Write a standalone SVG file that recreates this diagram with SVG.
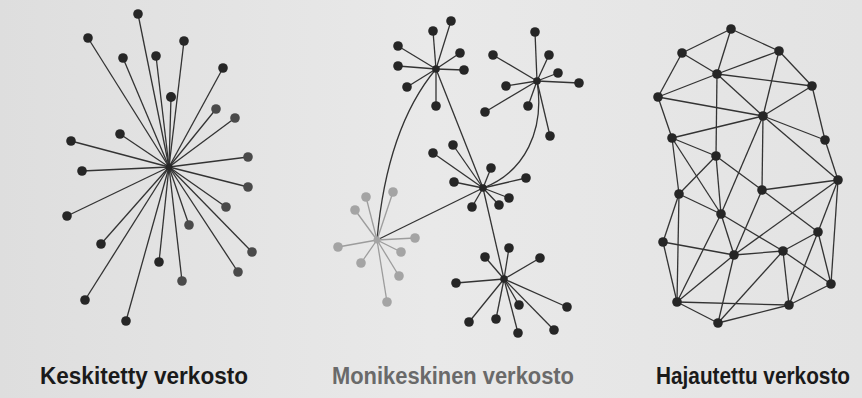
<svg xmlns="http://www.w3.org/2000/svg" width="862" height="398" viewBox="0 0 862 398">
<defs>
<linearGradient id="bg" x1="0" y1="0" x2="1" y2="0">
<stop offset="0" stop-color="#dedede"/>
<stop offset="0.5" stop-color="#e9e9e9"/>
<stop offset="1" stop-color="#e3e3e3"/>
</linearGradient>
<style>
.e{stroke:#333;stroke-width:1.3;fill:none}
.eg{stroke:#9c9c9c;stroke-width:1.3;fill:none}
.n{fill:#262626}
.nm{fill:#4a4a4a}
.ng{fill:#a4a4a4}
.lbl{font-family:"Liberation Sans",Arial,sans-serif;font-size:21px;font-weight:bold}
</style>
</defs>
<rect width="862" height="398" fill="url(#bg)"/>

<!-- Centralized network -->
<g id="central-edges" class="e">
<line x1="169" y1="167" x2="138" y2="14"/>
<line x1="169" y1="167" x2="88" y2="38"/>
<line x1="169" y1="167" x2="123" y2="58"/>
<line x1="169" y1="167" x2="156" y2="56"/>
<line x1="169" y1="167" x2="184" y2="41"/>
<line x1="169" y1="167" x2="223" y2="68"/>
<line x1="169" y1="167" x2="171" y2="97"/>
<line x1="169" y1="167" x2="216" y2="109"/>
<line x1="169" y1="167" x2="235" y2="118"/>
<line x1="169" y1="167" x2="120" y2="134"/>
<line x1="169" y1="167" x2="71" y2="141"/>
<line x1="169" y1="167" x2="82" y2="171"/>
<line x1="169" y1="167" x2="248" y2="157"/>
<line x1="169" y1="167" x2="248" y2="187"/>
<line x1="169" y1="167" x2="67" y2="216"/>
<line x1="169" y1="167" x2="226" y2="207"/>
<line x1="169" y1="167" x2="189" y2="225"/>
<line x1="169" y1="167" x2="101" y2="244"/>
<line x1="169" y1="167" x2="252" y2="252"/>
<line x1="169" y1="167" x2="159" y2="262"/>
<line x1="169" y1="167" x2="238" y2="272"/>
<line x1="169" y1="167" x2="182" y2="281"/>
<line x1="169" y1="167" x2="85" y2="300"/>
<line x1="169" y1="167" x2="126" y2="321"/>
</g>
<g id="central-hub"><circle class="n" cx="169" cy="167" r="3.5"/></g>
<g id="central-leaves">
<circle class="n" cx="138" cy="14" r="4.8"/>
<circle class="n" cx="88" cy="38" r="4.8"/>
<circle class="n" cx="123" cy="58" r="4.8"/>
<circle class="n" cx="156" cy="56" r="4.8"/>
<circle class="n" cx="184" cy="41" r="4.8"/>
<circle class="n" cx="223" cy="68" r="4.8"/>
<circle class="n" cx="171" cy="97" r="5"/>
<circle class="nm" cx="216" cy="109" r="4.8"/>
<circle class="nm" cx="235" cy="118" r="4.8"/>
<circle class="n" cx="120" cy="134" r="4.8"/>
<circle class="n" cx="71" cy="141" r="4.8"/>
<circle class="n" cx="82" cy="171" r="4.8"/>
<circle class="nm" cx="248" cy="157" r="4.8"/>
<circle class="nm" cx="248" cy="187" r="4.8"/>
<circle class="n" cx="67" cy="216" r="4.8"/>
<circle class="nm" cx="226" cy="207" r="4.8"/>
<circle class="nm" cx="189" cy="225" r="4.8"/>
<circle class="n" cx="101" cy="244" r="4.8"/>
<circle class="nm" cx="252" cy="252" r="4.8"/>
<circle class="n" cx="159" cy="262" r="4.8"/>
<circle class="nm" cx="238" cy="272" r="4.8"/>
<circle class="nm" cx="182" cy="281" r="4.8"/>
<circle class="n" cx="85" cy="300" r="4.8"/>
<circle class="n" cx="126" cy="321" r="4.8"/>
</g>

<!-- Multi-centered network -->
<g id="multi-edges">
<g class="e">
<path d="M436,69 C410,100 385,150 377,240"/>
<path d="M537,81 C545,130 525,172 483,188"/>
<line x1="436" y1="69" x2="483" y2="188"/>
<line x1="483" y1="188" x2="377" y2="240"/>
<line x1="483" y1="188" x2="504" y2="279"/>
<line x1="436" y1="69" x2="451" y2="21"/>
<line x1="436" y1="69" x2="433" y2="31"/>
<line x1="436" y1="69" x2="398" y2="46"/>
<line x1="436" y1="69" x2="460" y2="53"/>
<line x1="436" y1="69" x2="398" y2="66"/>
<line x1="436" y1="69" x2="464" y2="70"/>
<line x1="436" y1="69" x2="407" y2="87"/>
<line x1="436" y1="69" x2="436" y2="106"/>
<line x1="537" y1="81" x2="535" y2="32"/>
<line x1="537" y1="81" x2="493" y2="55"/>
<line x1="537" y1="81" x2="549" y2="55"/>
<line x1="537" y1="81" x2="558" y2="73"/>
<line x1="537" y1="81" x2="579" y2="83"/>
<line x1="537" y1="81" x2="506" y2="86"/>
<line x1="537" y1="81" x2="528" y2="106"/>
<line x1="537" y1="81" x2="485" y2="112"/>
<line x1="537" y1="81" x2="550" y2="136"/>
<line x1="483" y1="188" x2="433" y2="153"/>
<line x1="483" y1="188" x2="453" y2="145"/>
<line x1="483" y1="188" x2="491" y2="168"/>
<line x1="483" y1="188" x2="526" y2="178"/>
<line x1="483" y1="188" x2="454" y2="182"/>
<line x1="483" y1="188" x2="509" y2="198"/>
<line x1="483" y1="188" x2="499" y2="205"/>
<line x1="483" y1="188" x2="472" y2="207"/>
<line x1="504" y1="279" x2="509" y2="248"/>
<line x1="504" y1="279" x2="485" y2="257"/>
<line x1="504" y1="279" x2="540" y2="258"/>
<line x1="504" y1="279" x2="456" y2="283"/>
<line x1="504" y1="279" x2="567" y2="307"/>
<line x1="504" y1="279" x2="519" y2="305"/>
<line x1="504" y1="279" x2="496" y2="319"/>
<line x1="504" y1="279" x2="469" y2="322"/>
<line x1="504" y1="279" x2="518" y2="333"/>
<line x1="504" y1="279" x2="554" y2="330"/>
</g>
<g class="eg">
<line x1="377" y1="240" x2="366" y2="197"/>
<line x1="377" y1="240" x2="393" y2="192"/>
<line x1="377" y1="240" x2="355" y2="210"/>
<line x1="377" y1="240" x2="415" y2="238"/>
<line x1="377" y1="240" x2="338" y2="247"/>
<line x1="377" y1="240" x2="401" y2="252"/>
<line x1="377" y1="240" x2="361" y2="263"/>
<line x1="377" y1="240" x2="399" y2="276"/>
<line x1="377" y1="240" x2="387" y2="302"/>
</g>
</g>
<g id="hubA">
<circle class="n" cx="436" cy="69" r="3.8"/>
<circle class="n" cx="451" cy="21" r="4.8"/>
<circle class="n" cx="433" cy="31" r="4.8"/>
<circle class="n" cx="398" cy="46" r="4.8"/>
<circle class="n" cx="460" cy="53" r="4.8"/>
<circle class="n" cx="398" cy="66" r="4.8"/>
<circle class="n" cx="464" cy="70" r="4.8"/>
<circle class="n" cx="407" cy="87" r="4.8"/>
<circle class="n" cx="436" cy="106" r="4.8"/>
</g>
<g id="hubB">
<circle class="n" cx="537" cy="81" r="3.8"/>
<circle class="n" cx="535" cy="32" r="4.8"/>
<circle class="n" cx="493" cy="55" r="4.8"/>
<circle class="n" cx="549" cy="55" r="4.8"/>
<circle class="n" cx="558" cy="73" r="4.8"/>
<circle class="n" cx="579" cy="83" r="4.8"/>
<circle class="n" cx="506" cy="86" r="4.8"/>
<circle class="n" cx="528" cy="106" r="4.8"/>
<circle class="n" cx="485" cy="112" r="4.8"/>
<circle class="n" cx="550" cy="136" r="4.8"/>
</g>
<g id="hubC">
<circle class="n" cx="483" cy="188" r="3.8"/>
<circle class="n" cx="433" cy="153" r="4.8"/>
<circle class="n" cx="453" cy="145" r="4.8"/>
<circle class="n" cx="491" cy="168" r="4.8"/>
<circle class="n" cx="526" cy="178" r="4.8"/>
<circle class="n" cx="454" cy="182" r="4.8"/>
<circle class="n" cx="509" cy="198" r="4.8"/>
<circle class="n" cx="499" cy="205" r="4.8"/>
<circle class="n" cx="472" cy="207" r="4.8"/>
</g>
<g id="hubD">
<circle class="ng" cx="377" cy="240" r="3.5"/>
<circle class="ng" cx="366" cy="197" r="4.8"/>
<circle class="ng" cx="393" cy="192" r="4.8"/>
<circle class="ng" cx="355" cy="210" r="4.8"/>
<circle class="ng" cx="415" cy="238" r="4.8"/>
<circle class="ng" cx="338" cy="247" r="4.8"/>
<circle class="ng" cx="401" cy="252" r="4.8"/>
<circle class="ng" cx="361" cy="263" r="4.8"/>
<circle class="ng" cx="399" cy="276" r="4.8"/>
<circle class="ng" cx="387" cy="302" r="4.8"/>
</g>
<g id="hubE">
<circle class="n" cx="504" cy="279" r="3.8"/>
<circle class="n" cx="509" cy="248" r="4.8"/>
<circle class="n" cx="485" cy="257" r="4.8"/>
<circle class="n" cx="540" cy="258" r="4.8"/>
<circle class="n" cx="456" cy="283" r="4.8"/>
<circle class="n" cx="567" cy="307" r="4.8"/>
<circle class="n" cx="519" cy="305" r="4.8"/>
<circle class="n" cx="496" cy="319" r="4.8"/>
<circle class="n" cx="469" cy="322" r="4.8"/>
<circle class="n" cx="518" cy="333" r="4.8"/>
<circle class="n" cx="554" cy="330" r="4.8"/>
</g>

<!-- Distributed network -->
<g id="mesh-edges" class="e">
<line x1="731" y1="29" x2="682" y2="53"/>
<line x1="731" y1="29" x2="779" y2="51"/>
<line x1="731" y1="29" x2="717" y2="74"/>
<line x1="682" y1="53" x2="717" y2="74"/>
<line x1="682" y1="53" x2="658" y2="97"/>
<line x1="779" y1="51" x2="717" y2="74"/>
<line x1="779" y1="51" x2="812" y2="86"/>
<line x1="779" y1="51" x2="763" y2="116"/>
<line x1="717" y1="74" x2="812" y2="86"/>
<line x1="717" y1="74" x2="658" y2="97"/>
<line x1="717" y1="74" x2="763" y2="116"/>
<line x1="717" y1="74" x2="716" y2="156"/>
<line x1="812" y1="86" x2="763" y2="116"/>
<line x1="812" y1="86" x2="825" y2="140"/>
<line x1="658" y1="97" x2="763" y2="116"/>
<line x1="658" y1="97" x2="672" y2="138"/>
<line x1="763" y1="116" x2="672" y2="138"/>
<line x1="763" y1="116" x2="825" y2="140"/>
<line x1="763" y1="116" x2="838" y2="180"/>
<line x1="763" y1="116" x2="762" y2="190"/>
<line x1="763" y1="116" x2="721" y2="214"/>
<line x1="672" y1="138" x2="716" y2="156"/>
<line x1="672" y1="138" x2="679" y2="194"/>
<line x1="672" y1="138" x2="721" y2="214"/>
<line x1="825" y1="140" x2="838" y2="180"/>
<line x1="716" y1="156" x2="762" y2="190"/>
<line x1="716" y1="156" x2="679" y2="194"/>
<line x1="716" y1="156" x2="721" y2="214"/>
<line x1="838" y1="180" x2="762" y2="190"/>
<line x1="838" y1="180" x2="818" y2="232"/>
<line x1="838" y1="180" x2="734" y2="255"/>
<line x1="838" y1="180" x2="831" y2="284"/>
<line x1="762" y1="190" x2="818" y2="232"/>
<line x1="762" y1="190" x2="734" y2="255"/>
<line x1="679" y1="194" x2="721" y2="214"/>
<line x1="679" y1="194" x2="663" y2="242"/>
<line x1="679" y1="194" x2="677" y2="302"/>
<line x1="721" y1="214" x2="734" y2="255"/>
<line x1="721" y1="214" x2="783" y2="251"/>
<line x1="721" y1="214" x2="677" y2="302"/>
<line x1="818" y1="232" x2="783" y2="251"/>
<line x1="818" y1="232" x2="831" y2="284"/>
<line x1="818" y1="232" x2="789" y2="305"/>
<line x1="663" y1="242" x2="734" y2="255"/>
<line x1="663" y1="242" x2="677" y2="302"/>
<line x1="734" y1="255" x2="783" y2="251"/>
<line x1="734" y1="255" x2="677" y2="302"/>
<line x1="734" y1="255" x2="718" y2="323"/>
<line x1="783" y1="251" x2="831" y2="284"/>
<line x1="783" y1="251" x2="789" y2="305"/>
<line x1="783" y1="251" x2="718" y2="323"/>
<line x1="831" y1="284" x2="789" y2="305"/>
<line x1="677" y1="302" x2="789" y2="305"/>
<line x1="677" y1="302" x2="718" y2="323"/>
<line x1="789" y1="305" x2="718" y2="323"/>
</g>
<g id="m1"><circle class="n" cx="731" cy="29" r="4.8"/></g>
<g id="m2"><circle class="n" cx="682" cy="53" r="4.8"/></g>
<g id="m3"><circle class="n" cx="779" cy="51" r="4.8"/></g>
<g id="m4"><circle class="n" cx="717" cy="74" r="4.8"/></g>
<g id="m5"><circle class="n" cx="812" cy="86" r="4.8"/></g>
<g id="m6"><circle class="n" cx="658" cy="97" r="4.8"/></g>
<g id="m7"><circle class="n" cx="763" cy="116" r="4.8"/></g>
<g id="m8"><circle class="n" cx="672" cy="138" r="4.8"/></g>
<g id="m9"><circle class="n" cx="825" cy="140" r="4.8"/></g>
<g id="m10"><circle class="n" cx="716" cy="156" r="4.8"/></g>
<g id="m11"><circle class="n" cx="838" cy="180" r="4.8"/></g>
<g id="m12"><circle class="n" cx="762" cy="190" r="4.8"/></g>
<g id="m13"><circle class="n" cx="679" cy="194" r="4.8"/></g>
<g id="m14"><circle class="n" cx="721" cy="214" r="4.8"/></g>
<g id="m15"><circle class="n" cx="818" cy="232" r="4.8"/></g>
<g id="m16"><circle class="n" cx="663" cy="242" r="4.8"/></g>
<g id="m17"><circle class="n" cx="734" cy="255" r="4.8"/></g>
<g id="m18"><circle class="n" cx="783" cy="251" r="4.8"/></g>
<g id="m19"><circle class="n" cx="831" cy="284" r="4.8"/></g>
<g id="m20"><circle class="n" cx="677" cy="302" r="4.8"/></g>
<g id="m21"><circle class="n" cx="789" cy="305" r="4.8"/></g>
<g id="m22"><circle class="n" cx="718" cy="323" r="4.8"/></g>

<g id="labels">
<text class="lbl" transform="translate(40,384) scale(1,1.12)" fill="#1a1a1a" textLength="208" lengthAdjust="spacingAndGlyphs">Keskitetty verkosto</text>
<text class="lbl" transform="translate(332,384) scale(1,1.12)" fill="#6a6a6a" textLength="242" lengthAdjust="spacingAndGlyphs">Monikeskinen verkosto</text>
<text class="lbl" transform="translate(656,384) scale(1,1.12)" fill="#1a1a1a" textLength="194" lengthAdjust="spacingAndGlyphs">Hajautettu verkosto</text>
</g>
</svg>
